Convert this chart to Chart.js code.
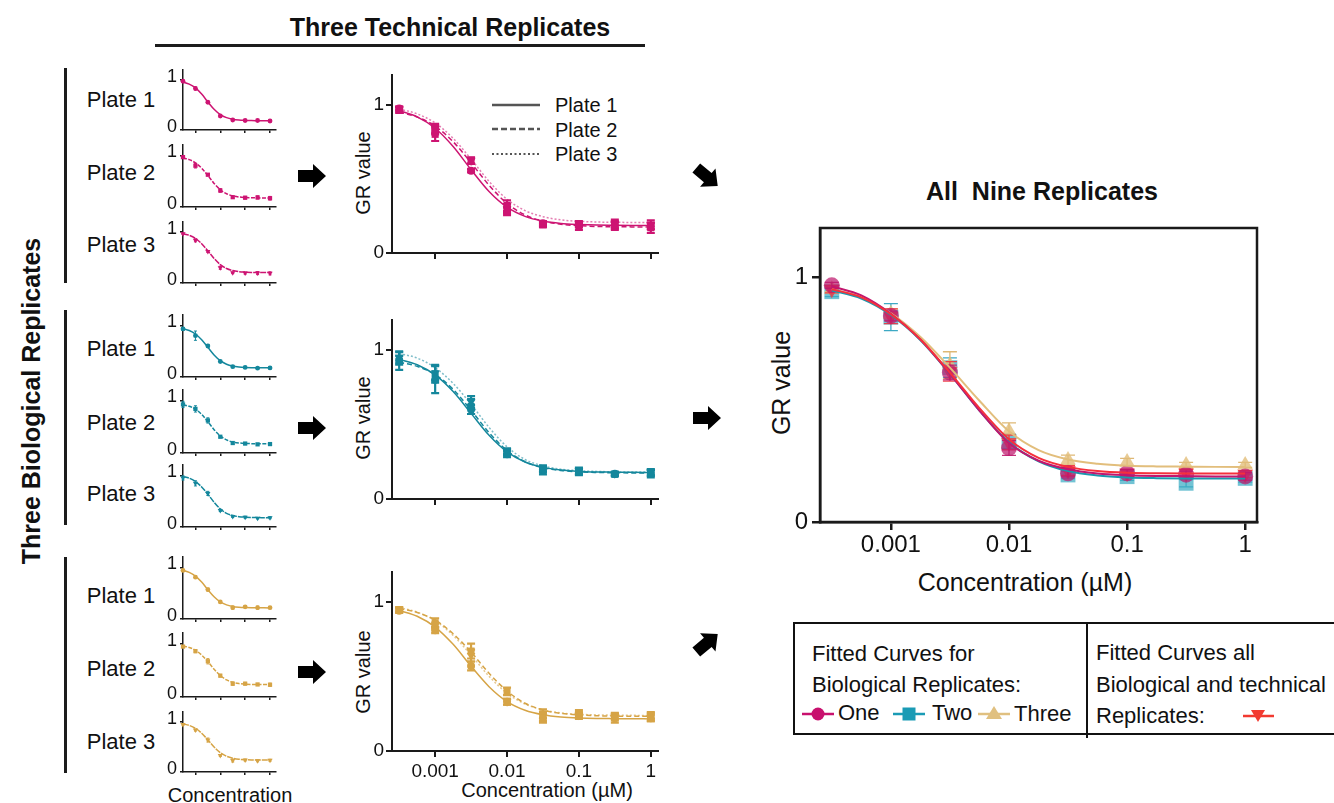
<!DOCTYPE html>
<html>
<head>
<meta charset="utf-8">
<title>GR dose-response replicates</title>
<script src="https://cdn.jsdelivr.net/npm/chart.js@4.4.1/dist/chart.umd.min.js"></script>
<style>
  html, body { margin: 0; padding: 0; background: #fff; }
  body { width: 1334px; height: 803px; position: relative; overflow: hidden;
         font-family: "Liberation Sans", Arial, sans-serif; color: #111; }
  canvas { position: absolute; }
  .t { position: absolute; white-space: pre; line-height: 1; }
  .bar { position: absolute; background: #1c1c1c; }
  .rot { position: absolute; transform: translate(-50%, -50%) rotate(-90deg); white-space: pre; line-height: 1; }
  .ctr { position: absolute; transform: translate(-50%, -50%); white-space: pre; line-height: 1; }
  svg { position: absolute; left: 0; top: 0; }
</style>
</head>
<body>

<!-- headings and group brackets -->
<div class="ctr" style="left:450px; top:27px; font-size:25px; font-weight:bold;">Three Technical Replicates</div>
<div class="bar" style="left:155px; top:44px; width:490px; height:3px;"></div>
<div class="rot" style="left:31px; top:401px; font-size:25px; font-weight:bold;">Three Biological Replicates</div>
<div class="bar" style="left:64px; top:68px; width:3px; height:215px;"></div>
<div class="bar" style="left:64px; top:310px; width:3px; height:215px;"></div>
<div class="bar" style="left:64px; top:557px; width:3px; height:216px;"></div>

<!-- plate labels -->
<div class="ctr" style="left:121px; top:100px; font-size:22px;">Plate 1</div>
<div class="ctr" style="left:121px; top:173px; font-size:22px;">Plate 2</div>
<div class="ctr" style="left:121px; top:245px; font-size:22px;">Plate 3</div>
<div class="ctr" style="left:121px; top:349px; font-size:22px;">Plate 1</div>
<div class="ctr" style="left:121px; top:423px; font-size:22px;">Plate 2</div>
<div class="ctr" style="left:121px; top:494px; font-size:22px;">Plate 3</div>
<div class="ctr" style="left:121px; top:596px; font-size:22px;">Plate 1</div>
<div class="ctr" style="left:121px; top:669px; font-size:22px;">Plate 2</div>
<div class="ctr" style="left:121px; top:742px; font-size:22px;">Plate 3</div>
<div class="ctr" style="left:230px; top:795px; font-size:20px;">Concentration</div>

<!-- technical replicate panel titles -->
<div class="rot" style="left:363px; top:173px; font-size:20px;">GR value</div>
<div class="rot" style="left:363px; top:418px; font-size:20px;">GR value</div>
<div class="rot" style="left:363px; top:672px; font-size:20px;">GR value</div>
<div class="ctr" style="left:547px; top:790px; font-size:20px;">Concentration (µM)</div>
<div class="t" style="left:555px; top:95px; font-size:20px;">Plate 1</div>
<div class="t" style="left:555px; top:120px; font-size:20px;">Plate 2</div>
<div class="t" style="left:555px; top:144px; font-size:20px;">Plate 3</div>

<!-- pooled panel titles -->
<div class="ctr" style="left:1042px; top:191px; font-size:25px; font-weight:bold;">All  Nine Replicates</div>
<div class="rot" style="left:781px; top:383px; font-size:25px;">GR value</div>
<div class="ctr" style="left:1025px; top:582px; font-size:25px;">Concentration (µM)</div>

<!-- legend box -->
<div style="position:absolute; left:793px; top:622px; width:620px; height:109px; border:2px solid #111;"></div>
<div class="bar" style="left:1086px; top:622px; width:2px; height:116px; background:#111;"></div>
<div class="t" style="left:812px; top:638px; font-size:22px; line-height:31px;">Fitted Curves for
Biological Replicates:</div>
<div class="t" style="left:838px; top:702px; font-size:22px;">One</div>
<div class="t" style="left:932px; top:702px; font-size:22px;">Two</div>
<div class="t" style="left:1014px; top:703px; font-size:22px;">Three</div>
<div class="t" style="left:1096px; top:637px; font-size:22px; line-height:31.5px;">Fitted Curves all
Biological and technical
Replicates:</div>

<svg width="1334" height="803" viewBox="0 0 1334 803">
  <!-- arrows between columns -->
  <g fill="#000">
    <polygon transform="translate(312,176)" points="-14,-6 1,-6 1,-12 14,0 1,12 1,6 -14,6"/>
    <polygon transform="translate(312,428)" points="-14,-6 1,-6 1,-12 14,0 1,12 1,6 -14,6"/>
    <polygon transform="translate(312,672)" points="-14,-6 1,-6 1,-12 14,0 1,12 1,6 -14,6"/>
    <polygon transform="translate(707,177) rotate(40)" points="-14,-6 1,-6 1,-12 14,0 1,12 1,6 -14,6"/>
    <polygon transform="translate(707,418)" points="-14,-6 1,-6 1,-12 14,0 1,12 1,6 -14,6"/>
    <polygon transform="translate(707,643) rotate(-40)" points="-14,-6 1,-6 1,-12 14,0 1,12 1,6 -14,6"/>
  </g>
  <!-- line-style key of the technical panels -->
  <g stroke="#555" stroke-width="2.5">
    <line x1="492" y1="105" x2="540" y2="105"/>
    <line x1="492" y1="129" x2="540" y2="129" stroke-dasharray="6,3"/>
    <line x1="492" y1="154" x2="540" y2="154" stroke-dasharray="2,2.5" stroke-width="2"/>
  </g>
  <!-- legend markers -->
  <line x1="802" y1="714" x2="834" y2="714" stroke="#C8106E" stroke-width="2.5"/>
  <circle cx="818" cy="714" r="6.5" fill="#C8106E"/>
  <line x1="893" y1="714" x2="925" y2="714" stroke="#1A9BB5" stroke-width="2.5"/>
  <rect x="902.5" y="707.5" width="13" height="13" fill="#1A9BB5"/>
  <line x1="978" y1="714" x2="1010" y2="714" stroke="#E0C080" stroke-width="2.5"/>
  <polygon points="994,706 1002,719 986,719" fill="#E0C080"/>
  <line x1="1243" y1="716" x2="1274" y2="716" stroke="#F23A30" stroke-width="2.5"/>
  <polygon points="1251,710 1265,710 1258,722" fill="#F23A30"/>
</svg>

<script>
// ---- concentrations (µM) and axis ticks ----
const conc = [0.000316, 0.001, 0.00316, 0.01, 0.0316, 0.1, 0.316, 1];
const curveConc = [0.000316, 0.000562, 0.001, 0.00178, 0.00316, 0.00562, 0.01, 0.0178,
                   0.0316, 0.0562, 0.1, 0.178, 0.316, 0.562, 1];
const tickValues = [0.001, 0.01, 0.1, 1];
const tickLabels = ['0.001', '0.01', '0.1', '1'];
const yTickValues = [0, 1];
const yTickLabels = ['0', '1'];

// ---- biological replicate One: per-plate means, errors, fitted curves ----
const oneP1 = [0.975, 0.83, 0.555, 0.28, 0.20, 0.19, 0.19, 0.18];
const oneP1Err = [0.012, 0.03, 0.012, 0.025, 0.012, 0.015, 0.02, 0.02];
const oneP2 = [0.965, 0.80, 0.625, 0.32, 0.19, 0.18, 0.185, 0.17];
const oneP2Err = [0.02, 0.045, 0.02, 0.035, 0.015, 0.025, 0.03, 0.035];
const oneP3 = [0.97, 0.84, 0.62, 0.30, 0.20, 0.195, 0.195, 0.19];
const oneP3Err = [0.015, 0.03, 0.02, 0.03, 0.015, 0.02, 0.03, 0.03];
const oneP1Fit = [0.959, 0.918, 0.841, 0.718, 0.562, 0.415, 0.309, 0.247, 0.215, 0.199, 0.192, 0.188, 0.187, 0.186, 0.185];
const oneP2Fit = [0.950, 0.917, 0.855, 0.750, 0.608, 0.457, 0.334, 0.257, 0.215, 0.194, 0.184, 0.179, 0.177, 0.176, 0.175];
const oneP3Fit = [0.971, 0.938, 0.877, 0.773, 0.633, 0.483, 0.362, 0.286, 0.245, 0.223, 0.214, 0.209, 0.207, 0.206, 0.205];

// ---- biological replicate Two ----
const twoP1 = [0.93, 0.80, 0.60, 0.30, 0.20, 0.185, 0.17, 0.175];
const twoP1Err = [0.03, 0.09, 0.03, 0.02, 0.02, 0.02, 0.012, 0.02];
const twoP2 = [0.925, 0.84, 0.62, 0.31, 0.19, 0.18, 0.165, 0.17];
const twoP2Err = [0.06, 0.06, 0.05, 0.02, 0.025, 0.02, 0.012, 0.025];
const twoP3 = [0.95, 0.845, 0.65, 0.32, 0.205, 0.19, 0.17, 0.18];
const twoP3Err = [0.04, 0.05, 0.04, 0.02, 0.02, 0.02, 0.012, 0.02];
const twoP1Fit = [0.936, 0.900, 0.832, 0.720, 0.574, 0.427, 0.316, 0.248, 0.212, 0.194, 0.185, 0.181, 0.180, 0.179, 0.178];
const twoP2Fit = [0.918, 0.889, 0.835, 0.735, 0.595, 0.445, 0.325, 0.250, 0.210, 0.191, 0.182, 0.178, 0.176, 0.175, 0.175];
const twoP3Fit = [0.975, 0.945, 0.880, 0.775, 0.635, 0.480, 0.350, 0.265, 0.222, 0.200, 0.190, 0.185, 0.182, 0.181, 0.180];

// ---- biological replicate Three ----
const threeP1 = [0.94, 0.81, 0.57, 0.33, 0.22, 0.235, 0.22, 0.22];
const threeP1Err = [0.015, 0.02, 0.03, 0.02, 0.03, 0.02, 0.03, 0.02];
const threeP2 = [0.945, 0.86, 0.67, 0.40, 0.25, 0.25, 0.235, 0.23];
const threeP2Err = [0.015, 0.03, 0.05, 0.025, 0.03, 0.025, 0.02, 0.03];
const threeP3 = [0.95, 0.84, 0.64, 0.33, 0.23, 0.24, 0.225, 0.235];
const threeP3Err = [0.015, 0.02, 0.04, 0.02, 0.03, 0.02, 0.02, 0.02];
const threeP1Fit = [0.942, 0.903, 0.831, 0.715, 0.568, 0.431, 0.331, 0.273, 0.243, 0.228, 0.221, 0.218, 0.217, 0.216, 0.215];
const threeP2Fit = [0.956, 0.929, 0.877, 0.786, 0.663, 0.521, 0.402, 0.320, 0.275, 0.252, 0.242, 0.236, 0.234, 0.233, 0.232];
const threeP3Fit = [0.962, 0.931, 0.873, 0.775, 0.643, 0.501, 0.387, 0.315, 0.276, 0.255, 0.246, 0.242, 0.240, 0.239, 0.238];

// ---- all nine replicates: per-biological-replicate means and pooled fit ----
const allOne = [0.966, 0.841, 0.61, 0.302, 0.199, 0.199, 0.193, 0.186];
const allOneErr = [0.012, 0.02, 0.03, 0.03, 0.015, 0.015, 0.015, 0.015];
const allTwo = [0.94, 0.836, 0.63, 0.329, 0.192, 0.185, 0.158, 0.178];
const allTwoErr = [0.02, 0.055, 0.04, 0.03, 0.015, 0.015, 0.015, 0.015];
const allThree = [0.95, 0.85, 0.64, 0.37, 0.253, 0.245, 0.233, 0.233];
const allThreeErr = [0.01, 0.02, 0.055, 0.035, 0.02, 0.015, 0.01, 0.01];
const allPooled = [0.95, 0.84, 0.615, 0.325, 0.21, 0.20, 0.20, 0.195];
const allPooledErr = [0.015, 0.03, 0.04, 0.03, 0.02, 0.015, 0.015, 0.015];
const allOneFit = [0.962, 0.925, 0.850, 0.745, 0.605, 0.455, 0.322, 0.250, 0.215, 0.198, 0.191, 0.188, 0.187, 0.186, 0.186];
const allTwoFit = [0.945, 0.912, 0.845, 0.742, 0.605, 0.455, 0.325, 0.248, 0.208, 0.190, 0.182, 0.179, 0.178, 0.178, 0.178];
const allThreeFit = [0.950, 0.918, 0.852, 0.755, 0.630, 0.495, 0.370, 0.293, 0.255, 0.238, 0.230, 0.227, 0.226, 0.225, 0.225];
const allPooledFit = [0.950, 0.917, 0.848, 0.745, 0.610, 0.465, 0.338, 0.262, 0.225, 0.208, 0.201, 0.199, 0.198, 0.198, 0.198];

// ---- drawing setup ----
Chart.defaults.font.family = '"Liberation Sans", Arial, sans-serif';
Chart.defaults.color = '#111';
const axisColor = '#1a1a1a';

const bioGroups = [
  { color: '#CD1472', faint: 'rgba(205,20,114,0.55)',
    pts: [oneP1, oneP2, oneP3], errs: [oneP1Err, oneP2Err, oneP3Err], fits: [oneP1Fit, oneP2Fit, oneP3Fit] },
  { color: '#14879C', faint: 'rgba(20,135,156,0.55)',
    pts: [twoP1, twoP2, twoP3], errs: [twoP1Err, twoP2Err, twoP3Err], fits: [twoP1Fit, twoP2Fit, twoP3Fit] },
  { color: '#D6A446', faint: 'rgba(214,164,70,0.6)',
    pts: [threeP1, threeP2, threeP3], errs: [threeP1Err, threeP2Err, threeP3Err], fits: [threeP1Fit, threeP2Fit, threeP3Fit] }
];

const toPoints = vals => conc.map((c, i) => ({ x: c, y: vals[i] }));
const toCurve = vals => curveConc.map((c, i) => ({ x: c, y: vals[i] }));

// vertical error bars with caps, drawn just before each marker set
const errorBars = {
  id: 'errorBars',
  beforeDatasetDraw(chart, args) {
    const ds = chart.data.datasets[args.index];
    if (!ds.errors) return;
    const xs = chart.scales.x, ys = chart.scales.y, ctx = chart.ctx;
    const cap = ds.capWidth || 4;
    ctx.save();
    ctx.strokeStyle = ds.errorColor;
    ctx.lineWidth = ds.errorWidth || 1;
    ds.data.forEach((p, i) => {
      const e = ds.errors[i];
      const px = xs.getPixelForValue(p.x);
      const y1 = ys.getPixelForValue(p.y + e);
      const y2 = ys.getPixelForValue(p.y - e);
      ctx.beginPath();
      ctx.moveTo(px, y1); ctx.lineTo(px, y2);
      ctx.moveTo(px - cap / 2, y1); ctx.lineTo(px + cap / 2, y1);
      ctx.moveTo(px - cap / 2, y2); ctx.lineTo(px + cap / 2, y2);
      ctx.stroke();
    });
    ctx.restore();
  }
};

// closed box around the plot area
const frame = {
  id: 'frame',
  afterDraw(chart, args, opts) {
    if (!opts || !opts.show) return;
    const a = chart.chartArea, ctx = chart.ctx;
    ctx.save();
    ctx.strokeStyle = axisColor;
    ctx.lineWidth = opts.width;
    ctx.strokeRect(a.left, a.top, a.right - a.left, a.bottom - a.top);
    ctx.restore();
  }
};

function xAxis(o) {
  return {
    type: 'logarithmic', min: o.min, max: o.max, bounds: 'data',
    afterBuildTicks: s => { s.ticks = tickValues.map(v => ({ value: v })); },
    afterFit: s => { s.height = o.h; s.paddingLeft = 0; s.paddingRight = 0; },
    border: { display: true, color: axisColor, width: o.lw },
    grid: { display: true, drawOnChartArea: false, drawTicks: true, tickLength: o.tl,
            tickWidth: o.lw, tickColor: axisColor, color: axisColor, lineWidth: o.lw },
    ticks: { display: o.labels, autoSkip: false, maxRotation: 0, minRotation: 0,
             padding: o.pad || 0, color: '#111', font: { size: o.fs || 12 },
             callback: (v, i) => tickLabels[i] }
  };
}

function yAxis(o) {
  return {
    type: 'linear', min: 0, max: 1.2, bounds: 'data',
    afterBuildTicks: s => { s.ticks = yTickValues.map(v => ({ value: v })); },
    afterFit: s => { s.width = o.w; s.paddingTop = 0; s.paddingBottom = 0; },
    border: { display: true, color: axisColor, width: o.lw },
    grid: { display: true, drawOnChartArea: false, drawTicks: true, tickLength: o.tl,
            tickWidth: o.lw, tickColor: axisColor, color: axisColor, lineWidth: o.lw },
    ticks: { display: true, padding: o.pad, labelOffset: o.off || 0, color: '#111',
             font: { size: o.fs }, callback: (v, i) => yTickLabels[i] }
  };
}

function makeChart(box, datasets, scales, extra) {
  const c = document.createElement('canvas');
  c.width = box.w; c.height = box.h;
  c.style.left = box.x + 'px'; c.style.top = box.y + 'px';
  c.style.width = box.w + 'px'; c.style.height = box.h + 'px';
  document.body.appendChild(c);
  return new Chart(c, {
    type: 'scatter',
    data: { datasets },
    options: {
      responsive: false, maintainAspectRatio: false, animation: false, events: [],
      layout: { autoPadding: false, padding: box.pad },
      plugins: { legend: { display: false }, tooltip: { enabled: false }, frame: extra || {} },
      scales
    },
    plugins: [errorBars, frame]
  });
}

const plateStyles = [
  { style: 'circle', rot: 0, dash: [] },
  { style: 'rect', rot: 0, dash: [5, 3] },
  { style: 'triangle', rot: 180, dash: [2, 2] }
];

function markerSet(vals, errs, o) {
  return {
    data: toPoints(vals), errors: errs, showLine: false, clip: false,
    pointStyle: o.style, pointRotation: o.rot || 0, pointRadius: o.r,
    backgroundColor: o.fill, borderColor: o.fill, borderWidth: 0,
    errorColor: o.errColor, errorWidth: o.errWidth, capWidth: o.cap, order: o.order
  };
}

function curveSet(vals, o) {
  return {
    data: toCurve(vals), showLine: true, pointRadius: 0, clip: false,
    borderColor: o.color, borderWidth: o.w, borderDash: o.dash || [],
    cubicInterpolationMode: 'monotone', fill: false, order: o.order
  };
}

// ---- nine single-plate panels ----
const smallFrames = [
  [[70, 130], [145, 207], [222, 283]],
  [[315, 377], [390, 453], [465, 527]],
  [[557, 619], [633, 697], [712, 772]]
];
bioGroups.forEach((g, gi) => {
  smallFrames[gi].forEach(([top, bottom], pi) => {
    const st = plateStyles[pi];
    const ds = [
      markerSet(g.pts[pi], g.errs[pi], { style: st.style, rot: st.rot, r: pi === 0 ? 2.4 : 3,
        fill: g.color, errColor: g.color, errWidth: 1, cap: 3, order: 1 }),
      curveSet(g.fits[pi], { color: g.color, w: 1.5, dash: pi === 0 ? [] : (pi === 1 ? [4, 1.5] : [6, 1]), order: 2 })
    ];
    makeChart({ x: 150, y: top - 12, w: 130, h: bottom - top + 20, pad: { top: 12, right: 4, left: 0, bottom: 0 } }, ds, {
      x: xAxis({ min: 0.000316, max: 1.74, h: 8, tl: 3, lw: 1.5, labels: false }),
      y: yAxis({ w: 33, tl: 3, pad: 3, fs: 18, off: -3, lw: 1.5 })
    });
  });
});

// ---- three technical-replicate panels ----
const midFrames = [
  { y: 60, h: 205, axisH: 12, labels: false },
  { y: 305, h: 206, axisH: 12, labels: false },
  { y: 557, h: 246, axisH: 52, labels: true }
];
bioGroups.forEach((g, gi) => {
  const f = midFrames[gi];
  const ds = [];
  [2, 1, 0].forEach(pi => {
    const st = plateStyles[pi];
    ds.push(curveSet(g.fits[pi], { color: pi === 2 ? g.faint : g.color, w: 1.5, dash: st.dash, order: 10 + pi }));
  });
  [2, 1, 0].forEach(pi => {
    const st = plateStyles[pi];
    ds.push(markerSet(g.pts[pi], g.errs[pi], { style: st.style, rot: st.rot, r: pi === 0 ? 4 : 5,
      fill: g.color, errColor: g.color, errWidth: 2.2, cap: 8, order: pi }));
  });
  makeChart({ x: 330, y: f.y, w: 335, h: f.h, pad: { top: 15, right: 7, left: 0, bottom: 0 } }, ds, {
    x: xAxis({ min: 0.000251, max: 1.259, h: f.axisH, tl: 6, lw: 2, labels: f.labels, pad: 3, fs: 19 }),
    y: yAxis({ w: 62, tl: 6, pad: 2, fs: 19, lw: 2 })
  });
});

// ---- all nine replicates ----
const bigSets = [
  curveSet(allThreeFit, { color: '#E2BE7C', w: 2, order: 8 }),
  curveSet(allTwoFit, { color: '#1B98AE', w: 2, order: 7 }),
  curveSet(allOneFit, { color: '#C2166E', w: 2, order: 6 }),
  curveSet(allPooledFit, { color: '#F5303C', w: 2, order: 5 }),
  markerSet(allTwo, allTwoErr, { style: 'rect', r: 10.5, fill: 'rgba(60,172,196,0.72)',
    errColor: 'rgba(40,160,190,0.9)', errWidth: 1.3, cap: 14, order: 14 }),
  markerSet(allThree, allThreeErr, { style: 'triangle', r: 9, fill: 'rgba(226,190,122,0.8)',
    errColor: 'rgba(220,180,110,0.95)', errWidth: 1.3, cap: 14, order: 13 }),
  markerSet(allPooled, allPooledErr, { style: 'triangle', rot: 180, r: 9, fill: 'rgba(245,50,60,0.75)',
    errColor: 'rgba(240,50,60,0.9)', errWidth: 1.3, cap: 14, order: 12 }),
  markerSet(allOne, allOneErr, { style: 'circle', r: 8, fill: 'rgba(190,25,110,0.72)',
    errColor: 'rgba(190,25,110,0.9)', errWidth: 1.3, cap: 14, order: 11 })
];
makeChart({ x: 760, y: 220, w: 500, h: 380, pad: { top: 8, right: 3, left: 0, bottom: 0 } }, bigSets, {
  x: xAxis({ min: 0.000251, max: 1.259, h: 78, tl: 8, lw: 2.5, labels: true, pad: 1, fs: 24 }),
  y: yAxis({ w: 60, tl: 8, pad: 4, fs: 24, lw: 2.5 })
}, { show: true, width: 2.5 });
</script>
</body>
</html>
